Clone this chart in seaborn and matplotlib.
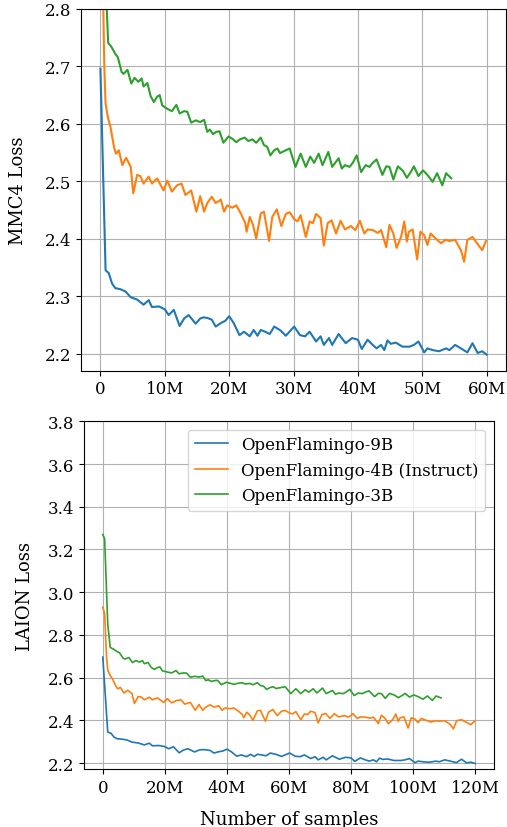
import numpy as np
import pandas as pd
import matplotlib
matplotlib.use("Agg")
import matplotlib.pyplot as plt
from matplotlib.ticker import FuncFormatter, MultipleLocator
import seaborn as sns

# ---------------- data (samples in millions of MMC4 samples) ----------------
models = ["OpenFlamingo-9B", "OpenFlamingo-4B (Instruct)", "OpenFlamingo-3B"]
colors = ["#1f77b4", "#ff7f0e", "#2ca02c"]

samples_9b = [0, 0.4, 0.8, 1.3, 1.8, 2.3, 3.1, 3.9, 4.7, 5.7, 6.7, 7.5, 8.0, 9.1, 10.0, 10.6,
              11.4, 12.3, 13.0, 13.7, 14.8, 15.5, 16.0, 16.6, 17.3, 17.9, 18.7, 19.4, 20.0,
              20.7, 21.6, 22.3, 23.2, 23.8, 24.4, 24.9, 25.6, 26.3, 27.0, 28.0, 28.8, 30.1,
              31.0, 31.8, 32.5, 33.5, 34.2, 34.7, 35.5, 36.0, 37.0, 38.1, 39.1, 40.0, 40.6,
              41.5, 42.3, 42.9, 43.6, 44.1, 44.6, 45.1, 45.9, 46.9, 48.0, 48.7, 49.4, 50.3,
              50.8, 51.6, 52.6, 53.7, 54.2, 55.1, 56.0, 57.0, 57.8, 58.6, 59.3, 60.0]
loss_9b = [2.696, 2.52, 2.345, 2.34, 2.322, 2.314, 2.312, 2.308, 2.298, 2.294, 2.285, 2.293,
           2.281, 2.282, 2.277, 2.267, 2.276, 2.248, 2.261, 2.267, 2.252, 2.261, 2.263, 2.262,
           2.259, 2.247, 2.253, 2.257, 2.265, 2.253, 2.232, 2.238, 2.230, 2.241, 2.231, 2.241,
           2.238, 2.234, 2.247, 2.240, 2.231, 2.247, 2.232, 2.230, 2.238, 2.221, 2.230, 2.215,
           2.227, 2.215, 2.234, 2.218, 2.227, 2.224, 2.208, 2.224, 2.215, 2.209, 2.215, 2.206,
           2.223, 2.217, 2.219, 2.212, 2.212, 2.215, 2.221, 2.202, 2.209, 2.206, 2.204, 2.209,
           2.206, 2.215, 2.209, 2.202, 2.218, 2.201, 2.204, 2.198]

samples_4b = [0, 0.3, 0.6, 0.8, 1.2, 1.55, 2.1, 2.4, 2.85, 3.4, 4.0, 4.7, 5.1, 5.7, 6.2, 6.7,
              7.5, 8.0, 8.8, 9.8, 10.4, 11.1, 11.9, 12.6, 13.2, 14.1, 14.9, 15.5, 16.1, 16.6,
              17.3, 17.9, 18.7, 19.2, 19.7, 20.5, 21.1, 21.8, 22.5, 22.7, 23.2, 23.7, 24.2,
              24.9, 25.4, 26.2, 26.7, 27.4, 28.1, 28.8, 29.4, 30.1, 30.6, 31.1, 31.9, 32.5,
              33.0, 33.5, 34.2, 34.7, 35.3, 35.9, 36.6, 37.3, 38.0, 38.9, 39.6, 40.3, 41.0,
              41.5, 42.3, 43.1, 43.6, 44.4, 44.9, 45.5, 46.0, 46.7, 47.2, 47.6, 47.9, 48.5,
              49.2, 49.7, 50.3, 50.8, 51.3, 52.1, 52.9, 53.6, 54.2, 55.1, 56.0, 56.5, 57.0,
              57.8, 58.3, 59.3, 59.9]
loss_4b = [2.93, 2.90, 2.70, 2.635, 2.609, 2.595, 2.56, 2.548, 2.554, 2.528, 2.541, 2.525,
           2.479, 2.511, 2.509, 2.496, 2.508, 2.496, 2.505, 2.484, 2.501, 2.482, 2.493, 2.496,
           2.476, 2.484, 2.447, 2.474, 2.447, 2.462, 2.473, 2.462, 2.468, 2.447, 2.458, 2.454,
           2.458, 2.444, 2.427, 2.412, 2.438, 2.424, 2.400, 2.444, 2.447, 2.396, 2.438, 2.451,
           2.422, 2.443, 2.446, 2.434, 2.430, 2.441, 2.403, 2.430, 2.427, 2.443, 2.436, 2.388,
           2.427, 2.432, 2.409, 2.431, 2.416, 2.422, 2.415, 2.431, 2.409, 2.416, 2.415, 2.410,
           2.415, 2.385, 2.424, 2.409, 2.384, 2.403, 2.430, 2.395, 2.412, 2.416, 2.364, 2.412,
           2.406, 2.389, 2.409, 2.400, 2.392, 2.398, 2.396, 2.398, 2.380, 2.360, 2.398, 2.403,
           2.395, 2.380, 2.396]

samples_3b = [0, 0.3, 0.8, 1.2, 1.7, 2.3, 2.7, 3.3, 3.6, 4.2, 4.8, 5.3, 5.9, 6.4, 6.7, 7.3,
              7.8, 8.3, 8.8, 9.2, 9.6, 10.4, 11.1, 11.8, 12.3, 13.0, 13.5, 14.1, 14.8, 15.5,
              16.1, 16.6, 17.0, 17.5, 18.0, 18.5, 19.1, 19.9, 20.6, 21.1, 21.7, 22.4, 23.0,
              23.6, 24.2, 24.9, 25.4, 25.9, 26.4, 27.0, 27.5, 27.9, 28.8, 29.4, 30.3, 31.1,
              31.9, 32.6, 33.2, 33.9, 34.5, 35.4, 36.0, 37.0, 37.5, 38.0, 38.7, 39.2, 39.8,
              40.5, 41.2, 41.8, 42.3, 42.9, 43.8, 44.4, 44.9, 45.5, 46.2, 47.0, 47.6, 48.2,
              48.7, 49.4, 50.1, 50.8, 51.6, 52.3, 53.1, 53.7, 54.5]
loss_3b = [3.27, 3.25, 2.85, 2.741, 2.734, 2.722, 2.716, 2.690, 2.687, 2.694, 2.670, 2.680,
           2.673, 2.679, 2.665, 2.671, 2.648, 2.638, 2.647, 2.650, 2.632, 2.626, 2.622, 2.633,
           2.618, 2.622, 2.621, 2.602, 2.606, 2.603, 2.607, 2.586, 2.590, 2.582, 2.586, 2.587,
           2.567, 2.578, 2.573, 2.568, 2.573, 2.576, 2.570, 2.573, 2.567, 2.576, 2.563, 2.560,
           2.545, 2.554, 2.557, 2.549, 2.554, 2.557, 2.525, 2.548, 2.525, 2.543, 2.532, 2.548,
           2.528, 2.551, 2.525, 2.540, 2.522, 2.528, 2.525, 2.532, 2.545, 2.516, 2.528, 2.525,
           2.532, 2.538, 2.511, 2.526, 2.525, 2.503, 2.526, 2.518, 2.506, 2.516, 2.526, 2.509,
           2.519, 2.511, 2.499, 2.514, 2.493, 2.514, 2.505]

laion_per_mmc4 = 2  # LAION samples seen per MMC4 sample

mmc4_xticks = [0, 10, 20, 30, 40, 50, 60]
laion_xticks = [0, 20, 40, 60, 80, 100, 120]
mmc4_yticks = [2.2, 2.3, 2.4, 2.5, 2.6, 2.7, 2.8]
laion_yticks = [2.2, 2.4, 2.6, 2.8, 3.0, 3.2, 3.4, 3.6, 3.8]

frames = []
for m, xs, ys in zip(models, [samples_9b, samples_4b, samples_3b],
                     [loss_9b, loss_4b, loss_3b]):
    frames.append(pd.DataFrame({"samples": xs, "loss": ys, "model": m}))
df = pd.concat(frames, ignore_index=True)
df["laion_samples"] = df["samples"] * laion_per_mmc4

# ---------------- plotting ----------------
plt.rcParams["font.family"] = ["DejaVu Serif"]
plt.rcParams["mathtext.fontset"] = "dejavuserif"

fig = plt.figure(figsize=(5.07, 8.28), dpi=100)
ax1 = fig.add_axes([0.160, 0.551, 0.838, 0.437])
ax2 = fig.add_axes([0.166, 0.070, 0.808, 0.420])

pal = dict(zip(models, colors))
fmt = FuncFormatter(lambda v, p: "0" if abs(v) < 1e-9 else f"{int(round(v))}M")

sns.lineplot(data=df, x="samples", y="loss", hue="model", hue_order=models,
             palette=pal, estimator=None, sort=False, linewidth=1.5, ax=ax1, legend=False)
ax1.set_xlim(-3, 63)
ax1.set_ylim(2.17, 2.8)
ax1.set_xticks(mmc4_xticks)
ax1.set_yticks(mmc4_yticks)
ax1.xaxis.set_major_formatter(fmt)
ax1.set_xlabel("")
ax1.set_ylabel("MMC4 Loss", fontsize=13, labelpad=13)

sns.lineplot(data=df, x="laion_samples", y="loss", hue="model", hue_order=models,
             palette=pal, estimator=None, sort=False, linewidth=1.2, ax=ax2)
ax2.set_xlim(-6, 126)
ax2.set_ylim(2.172, 3.8)
ax2.set_xticks(laion_xticks)
ax2.set_yticks(laion_yticks)
ax2.xaxis.set_major_formatter(fmt)
ax2.set_xlabel("Number of samples", fontsize=13, labelpad=10)
ax2.set_ylabel("LAION Loss", fontsize=13, labelpad=10)
ax2.legend(loc="upper right", fontsize=12, frameon=True, title=None)

for ax in (ax1, ax2):
    ax.grid(True, color="#b0b0b0", linewidth=0.8)
    ax.tick_params(labelsize=12)
    ax.yaxis.set_major_formatter(FuncFormatter(lambda v, p: f"{v:.1f}"))

fig.savefig("out.png", dpi=100)
